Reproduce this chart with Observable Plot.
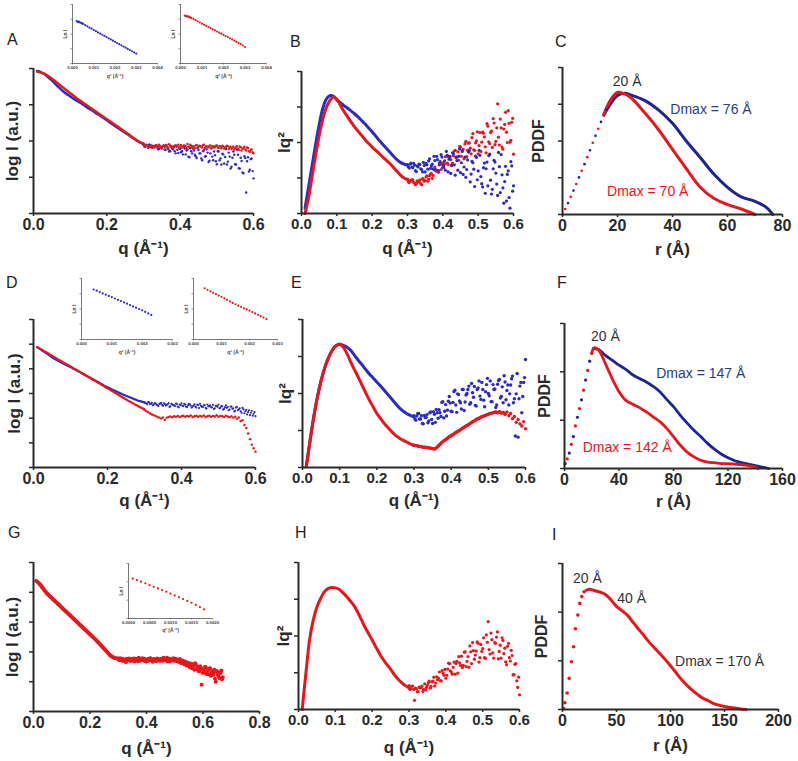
<!DOCTYPE html>
<html><head><meta charset="utf-8">
<script src="https://cdn.jsdelivr.net/npm/d3@7"></script>
<script src="https://cdn.jsdelivr.net/npm/@observablehq/plot@0.6"></script>
<style>
body{margin:0;background:#fff;}
#fig{position:relative;width:798px;height:761px;overflow:hidden;font-family:"Liberation Sans",Arial,sans-serif;background:#fff;}
.pane{position:absolute;}
.lab{position:absolute;font-size:16px;line-height:1;color:#222;}
</style></head><body><div id="fig"></div>
<script>
// ---------- shared q grids ----------
const qS = [0.01,0.02,0.03,0.04,0.05,0.06,0.07,0.08,0.09,0.10,0.11,0.12,0.13,0.14,0.15,0.16,0.17,0.18,0.19,0.20,0.21,0.22,0.23,0.24,0.25,0.26,0.27,0.28,0.29,0.30];
const qN = [.300,.305,.310,.315,.320,.325,.330,.335,.340,.345,.350,.355,.360,.365,.370,.375,.380,.385,.390,.395,.400,.405,.410,.415,.420,.425,.430,.435,.440,.445,.450,.455,.460,.465,.470,.475,.480,.485,.490,.495,.500,.505,.510,.515,.520,.525,.530,.535,.540,.545,.550,.555,.560,.565,.570,.575,.580,.585,.590,.595,.600];
const qN2 = [.3025,.3075,.3125,.3175,.3225,.3275,.3325,.3375,.3425,.3475,.3525,.3575,.3625,.3675,.3725,.3775,.3825,.3875,.3925,.3975,.4025,.4075,.4125,.4175,.4225,.4275,.4325,.4375,.4425,.4475,.4525,.4575,.4625,.4675,.4725,.4775,.4825,.4875,.4925,.4975,.5025,.5075,.5125,.5175,.5225,.5275,.5325,.5375,.5425,.5475,.5525,.5575,.5625,.5675,.5725,.5775,.5825,.5875,.5925,.5975];
const qG = [.300,.305,.310,.315,.320,.325,.330,.335,.340,.345,.350,.355,.360,.365,.370,.375,.380,.385,.390,.395,.400,.405,.410,.415,.420,.425,.430,.435,.440,.445,.450,.455,.460,.465,.470,.475,.480,.485,.490,.495,.500,.505,.510,.515,.520,.525,.530,.535,.540,.545,.550,.555,.560,.565,.570,.575,.580,.585,.590,.595,.600,.605,.610,.615,.620,.625,.630,.635,.640,.645,.650,.655,.660,.665,.670];
const qG2 = [.3025,.3075,.3125,.3175,.3225,.3275,.3325,.3375,.3425,.3475,.3525,.3575,.3625,.3675,.3725,.3775,.3825,.3875,.3925,.3975,.4025,.4075,.4125,.4175,.4225,.4275,.4325,.4375,.4425,.4475,.4525,.4575,.4625,.4675,.4725,.4775,.4825,.4875,.4925,.4975,.5025,.5075,.5125,.5175,.5225,.5275,.5325,.5375,.5425,.5475,.5525,.5575,.5625,.5675,.5725,.5775,.5825,.5875,.5925,.5975,.6025,.6075,.6125,.6175,.6225,.6275,.6325,.6375,.6425,.6475,.6525,.6575,.6625,.6675];

// ---------- Panel A : log I ----------
const aRedS = [3.91,3.89,3.85,3.79,3.72,3.64,3.56,3.48,3.40,3.32,3.24,3.16,3.09,3.02,2.95,2.88,2.81,2.74,2.67,2.60,2.53,2.46,2.39,2.32,2.25,2.18,2.10,2.03,1.97,1.93];
const aBlueS = [3.93,3.90,3.84,3.76,3.67,3.57,3.47,3.38,3.30,3.23,3.16,3.10,3.04,2.97,2.90,2.84,2.77,2.71,2.64,2.57,2.50,2.43,2.36,2.29,2.23,2.16,2.09,2.02,1.96,1.92];
const aRedN = [1.90,1.86,1.88,1.83,1.87,1.85,1.82,1.89,1.84,1.86,1.80,1.88,1.85,1.83,1.91,1.86,1.81,1.87,1.84,1.90,1.85,1.82,1.88,1.86,1.92,1.83,1.87,1.85,1.80,1.89,1.84,1.86,1.82,1.90,1.85,1.83,1.87,1.80,1.86,1.84,1.88,1.81,1.85,1.87,1.79,1.84,1.86,1.82,1.78,1.85,1.80,1.86,1.76,1.83,1.79,1.84,1.74,1.81,1.70,1.77,1.66];
const aRedN2 = [1.84,1.89,1.81,1.86,1.88,1.83,1.87,1.85,1.90,1.82,1.86,1.84,1.89,1.81,1.87,1.85,1.83,1.88,1.86,1.82,1.89,1.84,1.87,1.81,1.85,1.90,1.83,1.86,1.88,1.82,1.87,1.84,1.89,1.81,1.86,1.83,1.88,1.85,1.82,1.87,1.83,1.86,1.80,1.85,1.82,1.87,1.78,1.84,1.81,1.76,1.83,1.79,1.85,1.74,1.80,1.77,1.82,1.72,1.75,1.69];
const aBlueN = [1.90,1.84,1.88,1.90,1.84,1.82,1.85,1.88,1.77,1.86,1.80,1.88,1.76,1.82,1.71,1.84,1.77,1.72,1.87,1.67,1.78,1.72,1.83,1.63,1.77,1.55,1.72,1.79,1.62,1.53,1.75,1.66,1.47,1.76,1.58,1.68,1.46,1.80,1.47,1.61,1.36,1.71,1.52,1.65,1.38,1.78,1.43,1.57,1.29,1.71,1.36,1.76,1.25,1.54,1.13,1.58,0.58,1.55,1.21,1.52,0.97];
const aBlueN2 = [1.86,1.90,1.86,1.90,1.82,1.86,1.87,1.82,1.78,1.83,1.86,1.76,1.89,1.77,1.72,1.81,1.85,1.66,1.76,1.81,1.69,1.63,1.79,1.74,1.57,1.80,1.66,1.74,1.58,1.81,1.66,1.52,1.72,1.57,1.77,1.42,1.66,1.57,1.71,1.44,1.72,1.47,1.35,1.63,1.56,1.35,1.68,1.24,1.54,1.62,1.35,1.62,1.24,1.45,1.11,1.53,1.44,1.16,1.50,1.17];
// insets A (Ln I vs q^2)
const aQ2 = [0.0002,0.00025,0.0003,0.00035,0.0004,0.00045,0.0005,0.0006,0.0007,0.0008,0.0009,0.0010,0.0011,0.0012,0.0013,0.0014,0.0015,0.0016,0.0017,0.0018,0.0019,0.0020,0.0021,0.0022,0.0023,0.0024,0.0025,0.0026,0.0027,0.0028,0.0029,0.0030];
const a1LnI = [2.88,2.80,2.84,2.78,2.76,2.72,2.68,2.60,2.52,2.43,2.36,2.27,2.19,2.11,2.03,1.95,1.87,1.79,1.71,1.63,1.55,1.47,1.39,1.31,1.23,1.15,1.07,0.99,0.91,0.83,0.75,0.67];
const a2LnI = [3.25,3.20,3.22,3.16,3.18,3.12,3.08,3.02,2.94,2.86,2.78,2.70,2.62,2.55,2.47,2.40,2.32,2.25,2.17,2.09,2.02,1.94,1.86,1.79,1.71,1.63,1.55,1.47,1.39,1.31,1.22,1.12];

// ---------- Panel B : Kratky ----------
const bBlueS = [0.15,0.75,1.35,1.95,2.50,2.95,3.22,3.32,3.31,3.20,3.12,3.04,2.97,2.89,2.81,2.72,2.62,2.52,2.41,2.30,2.18,2.06,1.95,1.84,1.73,1.62,1.52,1.44,1.39,1.36];
const bRedS = [0.00,0.45,1.05,1.65,2.20,2.65,2.98,3.18,3.28,3.22,3.05,2.88,2.73,2.58,2.44,2.32,2.20,2.08,1.97,1.87,1.78,1.69,1.59,1.50,1.41,1.30,1.19,1.08,1.00,0.95];
const bRedN = [0.97,0.87,0.91,0.95,0.86,0.84,0.89,0.95,0.81,0.96,0.93,1.06,0.96,1.10,0.99,1.23,1.20,1.19,1.43,1.24,1.43,1.40,1.60,1.38,1.61,1.36,1.63,1.78,1.59,1.50,1.87,1.78,1.54,2.03,1.78,1.99,1.68,2.25,1.78,2.05,1.68,2.28,2.01,2.26,1.88,2.53,2.02,2.28,1.86,2.55,2.03,3.09,1.93,2.41,1.81,2.51,2.29,2.90,2.01,2.57,1.67];
const bRedN2 = [0.89,0.93,0.95,0.87,0.81,0.92,0.90,0.84,0.98,0.91,1.03,0.91,1.06,1.13,1.07,1.31,1.20,1.16,1.39,1.39,1.29,1.60,1.42,1.61,1.52,1.42,1.76,1.57,1.74,1.89,1.61,1.81,1.96,1.60,1.98,1.84,2.14,1.79,1.99,2.30,1.91,1.75,2.29,2.16,1.71,2.46,1.97,2.32,2.67,1.94,2.41,2.15,2.66,1.87,2.38,2.85,2.00,2.54,2.06,2.68];
const bBlueN = [1.38,1.28,1.42,1.29,1.36,1.18,1.31,1.38,1.24,1.44,1.17,1.37,1.48,1.27,1.39,1.61,1.24,1.52,1.37,1.66,1.30,1.48,1.75,1.17,1.60,1.35,1.68,1.08,1.49,1.61,1.15,1.75,1.31,1.02,1.51,1.77,1.11,1.43,0.76,1.58,1.20,1.64,0.84,1.29,0.57,1.45,1.63,0.94,0.68,1.50,1.14,0.51,1.32,1.66,0.72,0.90,0.35,1.20,0.15,1.34,0.78];
const bBlueN2 = [1.31,1.39,1.31,1.41,1.21,1.34,1.39,1.26,1.17,1.35,1.41,1.25,1.54,1.34,1.26,1.49,1.61,1.21,1.46,1.59,1.35,1.22,1.64,1.53,1.13,1.71,1.37,1.59,1.22,1.82,1.43,1.10,1.59,1.24,1.73,0.89,1.47,1.25,1.62,0.95,1.78,1.04,0.75,1.42,1.26,0.78,1.67,0.55,1.26,1.45,0.83,1.72,0.59,1.09,0.29,1.33,1.10,0.45,1.46,0.63];

// ---------- Panel C : PDDF ----------
const cBlueRiseR = [0,2,4,6,8,10,12,14,16];
const cBlueRise = [0,0.31,0.65,1.01,1.37,1.75,2.14,2.52,2.86];
const cRedRiseR = [1,3,5,7,9,11,13,15];
const cRedRise = [0.15,0.48,0.83,1.19,1.56,1.95,2.33,2.70];
const cBlueR = [15,17.5,20,22.5,25,30,35,40,45,50,55,60,65,70,74,76.5];
const cBlue = [2.70,3.02,3.24,3.30,3.25,3.10,2.84,2.48,2.00,1.56,1.10,0.74,0.48,0.36,0.20,0];
const cRedR = [15,17.5,20,22.5,25,30,35,40,45,50,55,60,65,70];
const cRed = [2.72,3.12,3.32,3.28,3.17,2.76,2.30,1.77,1.25,0.75,0.44,0.27,0.15,0];
const cNotes = [{x:23.5,y:3.62,t:"20 Å",c:"#333"},{x:54,y:2.85,t:"Dmax = 76 Å",c:"#2b3b8c"},{x:31,y:0.63,t:"Dmax = 70 Å",c:"#e8161b"}];

// ---------- Panel D : log I ----------
const dBlueS = [4.88,4.78,4.68,4.58,4.47,4.38,4.30,4.22,4.14,4.07,3.99,3.91,3.83,3.75,3.66,3.58,3.50,3.42,3.33,3.25,3.18,3.11,3.04,2.97,2.91,2.85,2.79,2.73,2.68,2.64];
const dRedS = [4.88,4.80,4.71,4.62,4.53,4.44,4.35,4.26,4.18,4.10,4.01,3.92,3.83,3.74,3.66,3.57,3.48,3.39,3.30,3.21,3.12,3.03,2.94,2.85,2.76,2.67,2.59,2.51,2.43,2.36];
const dRedN = [2.33,2.28,2.24,2.19,2.15,2.12,2.09,2.05,2.02,1.99,2.03,1.93,2.02,2.05,2.07,2.04,2.08,2.06,2.09,2.05,2.08,2.10,2.06,2.09,2.07,2.11,2.05,2.08,2.10,2.06,2.09,2.07,2.11,2.05,2.08,2.10,2.06,2.09,2.07,2.12,2.06,2.09,2.08,2.05,2.10,2.07,2.04,2.08,2.02,2.06,1.98,2.03,1.88,1.92,1.72,1.60,1.38,1.15,0.92,0.78,0.64];
const dBlueN = [2.64,2.60,2.66,2.57,2.62,2.55,2.60,2.53,2.58,2.62,2.50,2.57,2.54,2.61,2.48,2.56,2.52,2.59,2.47,2.55,2.60,2.49,2.54,2.45,2.58,2.51,2.47,2.56,2.43,2.53,2.58,2.46,2.52,2.42,2.55,2.49,2.44,2.54,2.40,2.50,2.55,2.42,2.48,2.38,2.52,2.45,2.35,2.47,2.40,2.30,2.46,2.36,2.28,2.42,2.20,2.34,2.25,2.12,2.30,2.18,2.08];
const dBlueN2 = [2.61,2.56,2.63,2.58,2.52,2.60,2.55,2.49,2.59,2.54,2.60,2.51,2.56,2.46,2.58,2.53,2.49,2.57,2.44,2.53,2.50,2.58,2.46,2.52,2.56,2.43,2.51,2.47,2.55,2.41,2.50,2.45,2.53,2.39,2.48,2.52,2.44,2.37,2.50,2.46,2.40,2.49,2.35,2.45,2.42,2.32,2.47,2.38,2.27,2.43,2.33,2.40,2.22,2.36,2.28,2.15,2.32,2.22,2.10,2.25];
const dQ2 = [0.0004,0.0005,0.0006,0.0007,0.0008,0.0009,0.0010,0.0011,0.0012,0.0013,0.0014,0.0015,0.0016,0.0017,0.0018,0.0019,0.0020,0.0021,0.0022,0.0023,0.0024,0.0025,0.0026];
const d1LnI = [3.28,3.20,3.11,3.02,2.94,2.86,2.78,2.69,2.60,2.52,2.43,2.35,2.26,2.17,2.09,2.00,1.91,1.81,1.71,1.61];
const d2LnI = [3.36,3.26,3.16,3.06,2.97,2.88,2.80,2.70,2.60,2.50,2.40,2.31,2.22,2.13,2.05,1.97,1.89,1.80,1.71,1.62,1.53,1.44,1.34];

// ---------- Panel E : Kratky ----------
const eRedS = [0.02,0.70,1.35,1.90,2.35,2.70,2.97,3.17,3.29,3.33,3.25,3.07,2.85,2.64,2.44,2.23,2.02,1.82,1.64,1.46,1.32,1.19,1.08,0.97,0.87,0.80,0.74,0.69,0.64,0.60];
const eBlueS = [0.02,0.70,1.35,1.90,2.35,2.70,2.97,3.17,3.29,3.33,3.30,3.25,3.16,3.03,2.90,2.78,2.65,2.53,2.42,2.31,2.20,2.09,1.97,1.85,1.73,1.62,1.53,1.46,1.41,1.37];
const eRedN = [0.60,0.59,0.58,0.57,0.56,0.55,0.55,0.54,0.53,0.52,0.51,0.50,0.53,0.58,0.63,0.68,0.72,0.75,0.79,0.83,0.86,0.89,0.93,0.96,0.99,1.02,1.06,1.09,1.12,1.15,1.18,1.22,1.25,1.28,1.31,1.33,1.36,1.38,1.40,1.42,1.44,1.46,1.47,1.49,1.50,1.48,1.51,1.47,1.49,1.44,1.50,1.40,1.46,1.32,1.38,1.22,1.30,1.18,1.12,1.24,1.05];
const eBlueN = [1.40,1.28,1.46,1.31,1.40,1.18,1.35,1.43,1.26,1.50,1.19,1.44,1.57,1.33,1.48,1.76,1.34,1.70,1.55,1.92,1.52,1.76,2.09,1.49,1.97,1.75,2.11,1.54,1.96,2.11,1.71,2.27,1.90,1.68,2.11,2.34,1.84,2.11,1.64,2.24,2.00,2.34,1.78,2.11,1.62,2.25,2.38,1.92,1.75,2.31,2.08,1.69,2.23,2.47,1.86,1.99,0.82,2.20,1.48,2.30,2.92];
const eBlueN2 = [1.31,1.39,1.46,1.31,1.19,1.41,1.35,1.21,1.48,1.30,1.51,1.22,1.48,1.56,1.38,1.78,1.52,1.39,1.79,1.74,1.51,2.05,1.69,1.99,1.80,1.58,2.11,1.77,2.00,2.20,1.75,2.02,2.19,1.66,2.15,1.93,2.30,1.82,2.05,2.41,1.94,1.78,2.24,2.12,1.69,2.35,1.88,2.18,2.48,1.83,2.23,1.99,2.40,1.75,0.85,2.54,1.86,2.30,1.92,2.43];

// ---------- Panel F : PDDF ----------
const fBlueRiseR = [0.5,3.5,6.5,9.5,12.5,15.5,18.5];
const fBlueRise = [0.10,0.32,0.66,1.06,1.42,1.83,2.22];
const fRedRiseR = [2,5,8,11,14,17,20];
const fRedRise = [0.20,0.50,0.88,1.24,1.62,2.03,2.38];
const fBlueR = [21,25,30,35,40,45,50,55,60,65,70,75,80,85,90,95,100,105,110,115,120,125,130,135,140,145,150];
const fBlue = [2.48,2.46,2.34,2.24,2.14,2.05,1.94,1.86,1.79,1.70,1.59,1.43,1.28,1.10,0.94,0.79,0.66,0.52,0.40,0.30,0.22,0.16,0.12,0.09,0.06,0.03,0];
const fRedR = [20,22,25,30,35,40,45,50,55,60,65,70,75,80,85,90,95,100,105,110,115,120,125,130,135,140,142];
const fRed = [2.40,2.50,2.45,2.17,1.86,1.59,1.41,1.33,1.26,1.17,1.07,0.97,0.83,0.66,0.48,0.34,0.24,0.17,0.13,0.12,0.10,0.10,0.09,0.08,0.06,0.03,0];
const fNotes = [{x:30,y:2.74,t:"20 Å",c:"#333"},{x:100,y:1.97,t:"Dmax = 147 Å",c:"#2b3b8c"},{x:46,y:0.43,t:"Dmax = 142 Å",c:"#e8161b"}];

// ---------- Panel G : log I ----------
const gS = [4.38,4.30,4.18,4.05,3.94,3.85,3.76,3.67,3.58,3.49,3.40,3.31,3.22,3.13,3.04,2.95,2.86,2.77,2.68,2.59,2.50,2.41,2.31,2.21,2.11,2.00,1.90,1.83,1.79,1.77];
const gN = [1.78,1.72,1.76,1.70,1.74,1.68,1.77,1.72,1.75,1.70,1.74,1.78,1.71,1.75,1.69,1.76,1.73,1.79,1.71,1.74,1.68,1.76,1.72,1.78,1.70,1.75,1.73,1.69,1.77,1.72,1.76,1.70,1.80,1.73,1.75,1.68,1.77,1.72,1.74,1.79,1.70,1.75,1.71,1.66,1.73,1.62,1.70,1.58,1.66,1.55,1.63,1.48,1.60,1.52,1.40,1.56,1.45,1.35,1.52,0.90,1.42,1.30,1.48,1.36,1.25,1.45,1.32,1.22,1.40,1.00,1.35,1.18,1.28,1.38,1.15];
const gN2 = [1.74,1.79,1.71,1.76,1.72,1.66,1.74,1.78,1.70,1.76,1.72,1.68,1.77,1.73,1.80,1.70,1.75,1.72,1.77,1.69,1.74,1.71,1.79,1.73,1.67,1.76,1.71,1.78,1.74,1.70,1.73,1.77,1.71,1.76,1.80,1.72,1.68,1.75,1.71,1.73,1.77,1.69,1.72,1.76,1.64,1.70,1.60,1.67,1.54,1.62,1.50,1.58,1.45,1.55,1.62,1.42,1.50,1.38,1.46,1.30,1.40,1.50,1.26,1.38,1.44,1.20,1.36,1.28,1.10,1.34,1.24,1.12,1.30,1.08];
const gQ2 = [0.0001,0.0002,0.0003,0.0004,0.0005,0.0006,0.0007,0.0008,0.0009,0.0010,0.0011,0.0012,0.0013,0.0014,0.0015,0.0016,0.0017,0.0018];
const gLnI = [2.18,2.10,2.01,1.92,1.82,1.73,1.64,1.55,1.46,1.36,1.26,1.16,1.06,0.96,0.86,0.74,0.62,0.50];

// ---------- Panel H : Kratky ----------
const hS = [0.00,0.98,1.89,2.43,2.79,3.02,3.20,3.29,3.32,3.31,3.27,3.18,3.08,2.96,2.84,2.66,2.46,2.25,2.07,1.89,1.70,1.52,1.36,1.22,1.10,0.95,0.83,0.73,0.65,0.59];
const hN = [0.65,0.56,0.64,0.25,0.56,0.49,0.59,0.64,0.55,0.53,0.66,0.77,0.63,0.77,0.64,0.89,0.85,0.78,1.06,0.93,0.85,1.10,1.25,1.02,1.15,0.96,1.31,1.44,1.20,1.14,1.56,1.17,1.44,1.73,1.25,1.60,1.48,1.84,1.29,1.77,1.66,1.41,2.03,2.39,1.51,1.90,1.40,1.80,2.11,1.58,1.40,1.88,1.67,1.22,1.80,1.32,1.47,0.95,1.25,0.60,0.40];
const hN2 = [0.55,0.63,0.55,0.58,0.48,0.61,0.59,0.49,0.70,0.60,0.73,0.58,0.75,0.88,0.72,0.81,1.02,0.78,0.99,1.09,0.93,1.26,1.05,0.96,1.29,1.25,0.99,1.27,1.45,1.20,1.57,1.31,1.15,1.57,1.82,1.37,1.59,1.80,1.41,1.58,1.95,1.39,1.83,1.63,2.08,1.54,1.82,1.97,1.38,1.75,1.95,1.52,1.30,1.72,1.41,1.61,0.94,1.23,0.78,0.88];

// ---------- Panel I : PDDF ----------
const iRiseR = [1,2.2,4.3,6.2,8.3,10.2,12,14.2,16,17.8,20];
const iRise = [0.02,0.14,0.34,0.64,0.98,1.29,1.66,1.94,2.18,2.32,2.42];
const iR = [22,25,30,35,40,45,50,55,60,65,70,75,80,85,90,95,100,105,110,115,120,125,130,135,140,145,150,155,160,165,170];
const iP = [2.45,2.47,2.44,2.41,2.36,2.25,2.12,2.03,1.94,1.80,1.66,1.53,1.39,1.27,1.15,1.03,0.90,0.76,0.62,0.50,0.40,0.31,0.23,0.18,0.12,0.09,0.06,0.04,0.03,0.01,0];
const iNotes = [{x:23,y:2.69,t:"20 Å",c:"#333"},{x:64,y:2.29,t:"40 Å",c:"#333"},{x:145.5,y:0.98,t:"Dmax = 170 Å",c:"#333"}];

// ---------- tick values ----------
const xtQ6 = [0,0.2,0.4,0.6], xtQ8 = [0,0.2,0.4,0.6,0.8], xtK = [0,0.1,0.2,0.3,0.4,0.5,0.6];
const xtC = [0,20,40,60,80], xtF = [0,40,80,120,160], xtI = [0,50,100,150,200];
const yt3 = [0,1,2,3], yt4 = [0,1,2,3,4], yt5 = [0,1,2,3,4,5], yt6 = [0,1,2,3,4,5,6];
const xtIn4 = [0,0.001,0.002,0.003,0.004], xtIn3 = [0,0.001,0.002,0.003], xtInG = [0,0.0005,0.001,0.0015,0.002];

// ---------- rendering ----------
const RED = "#e8161b", BLUE = "#2a2ac4", NAVY = "#1d2493", AX = "#2a2a2a";
const FONT = "Liberation Sans, Arial, sans-serif";
const fig = document.getElementById("fig");
const pts = (xs, ys) => ys.map((y, i) => ({x: xs[i], y}));
function place(node, left, top) {
  const d = document.createElement("div");
  d.className = "pane"; d.style.left = left + "px"; d.style.top = top + "px";
  d.appendChild(node); fig.appendChild(d);
}
function letter(t, left, top) {
  const d = document.createElement("div");
  d.className = "lab"; d.textContent = t; d.style.left = left + "px"; d.style.top = top + "px";
  fig.appendChild(d);
}
function panel(o) {
  const yMax = o.yTicks[o.yTicks.length - 1];
  const p = Plot.plot({
    width: o.width, height: o.height,
    marginLeft: o.m[0], marginRight: o.m[1], marginTop: o.m[2], marginBottom: o.m[3],
    x: {domain: o.xDomain}, y: {domain: [0, yMax]},
    color: {type: "identity"},
    style: {background: "transparent", overflow: "visible", fontFamily: FONT, color: AX},
    marks: [
      ...o.marks,
      Plot.ruleX([o.xDomain[0]], {y1: 0, y2: yMax, stroke: AX, strokeWidth: 2}),
      Plot.ruleY([0], {x1: o.xDomain[0], x2: o.xDomain[1], stroke: AX, strokeWidth: 2}),
      Plot.axisX({ticks: o.xTicks, tickFormat: o.xFmt, tickSize: 3, tickPadding: 2, fontSize: o.tickFont, fontWeight: "bold", strokeWidth: 1.5, label: null}),
      Plot.axisX({ticks: [], label: o.xLabel, labelAnchor: "center", labelArrow: "none", labelOffset: o.xOff, fontSize: 17, fontWeight: "bold"}),
      Plot.axisY({ticks: o.yTicks, tickFormat: () => "", tickSize: 4, strokeWidth: 1.5, label: null}),
      Plot.axisY({ticks: [], label: o.yLabel, labelAnchor: "center", labelArrow: "none", labelOffset: o.yOff, fontSize: o.yFont || 17, fontWeight: "bold"})
    ]
  });
  place(p, o.left, o.top);
}
function inset(o) {
  const yMax = o.yTicks[o.yTicks.length - 1];
  const p = Plot.plot({
    width: o.width, height: o.height,
    marginLeft: o.m[0], marginRight: o.m[1], marginTop: o.m[2], marginBottom: o.m[3],
    x: {domain: o.xDomain}, y: {domain: [0, yMax]},
    style: {background: "transparent", overflow: "visible", fontFamily: FONT, color: "#444"},
    marks: [
      Plot.dot(o.data, {x: "x", y: "y", r: 1.1, fill: o.color, stroke: "none"}),
      Plot.ruleX([0], {y1: 0, y2: yMax, stroke: "#555", strokeWidth: 0.8}),
      Plot.ruleY([0], {x1: o.xDomain[0], x2: o.xDomain[1], stroke: "#555", strokeWidth: 0.8}),
      Plot.axisX({ticks: o.xTicks, tickFormat: o.xFmt, tickSize: 1.5, tickPadding: 1, fontSize: 4.3, fontWeight: "bold", strokeWidth: 0.6, label: null}),
      Plot.axisX({ticks: [], label: "q² (Å⁻²)", labelAnchor: "center", labelArrow: "none", labelOffset: o.xOff, fontSize: 5, fontWeight: "bold"}),
      Plot.axisY({ticks: o.yTicks, tickFormat: () => "", tickSize: 1.5, strokeWidth: 0.6, label: null}),
      Plot.axisY({ticks: [], label: "Ln I", labelAnchor: "center", labelArrow: "none", labelOffset: 9, fontSize: 5, fontWeight: "bold"})
    ]
  });
  place(p, o.left, o.top);
}
const f1 = d3.format(".1f"), fInt = d => String(d);

// Panel A
panel({left: 0, top: 40, width: 268, height: 215, m: [33, 15, 28, 42], xDomain: [0, 0.6], xTicks: xtQ6, xFmt: f1, tickFont: 16,
  yTicks: yt4, xLabel: "q (Å⁻¹)", xOff: 40, yLabel: "log I (a.u.)", yOff: 28,
  marks: [
    Plot.dot(pts(qN, aBlueN), {x: "x", y: "y", r: 1.2, fill: BLUE}),
    Plot.dot(pts(qN2, aBlueN2), {x: "x", y: "y", r: 1.2, fill: BLUE}),
    Plot.dot(pts(qN, aRedN), {x: "x", y: "y", r: 1.2, fill: RED}),
    Plot.dot(pts(qN2, aRedN2), {x: "x", y: "y", r: 1.2, fill: RED}),
    Plot.line(pts(qS, aBlueS), {x: "x", y: "y", stroke: BLUE, strokeWidth: 2.5, curve: "catmull-rom"}),
    Plot.line(pts(qS, aRedS), {x: "x", y: "y", stroke: RED, strokeWidth: 2.5, curve: "catmull-rom"})
  ]});
inset({left: 55, top: 0, width: 112, height: 82, m: [17, 10, 4, 19], xDomain: [0, 0.004], xTicks: xtIn4, xFmt: d3.format(".3f"), yTicks: yt4, xOff: 14, data: pts(aQ2, a1LnI), color: BLUE});
inset({left: 163, top: 0, width: 112, height: 82, m: [17, 9, 4, 19], xDomain: [0, 0.004], xTicks: xtIn4, xFmt: d3.format(".3f"), yTicks: yt4, xOff: 14, data: pts(aQ2, a2LnI), color: RED});

// Panel B
panel({left: 270, top: 40, width: 260, height: 215, m: [31, 17, 31, 42], xDomain: [0, 0.6], xTicks: xtK, xFmt: f1, tickFont: 15,
  yTicks: yt4, xLabel: "q (Å⁻¹)", xOff: 40, yLabel: "Iq²", yOff: 24,
  marks: [
    Plot.dot(pts(qN, bRedN), {x: "x", y: "y", r: 1.6, fill: RED}),
    Plot.dot(pts(qN2, bRedN2), {x: "x", y: "y", r: 1.6, fill: RED}),
    Plot.dot(pts(qN, bBlueN), {x: "x", y: "y", r: 1.6, fill: BLUE}),
    Plot.dot(pts(qN2, bBlueN2), {x: "x", y: "y", r: 1.6, fill: BLUE}),
    Plot.line(pts(qS, bBlueS), {x: "x", y: "y", stroke: BLUE, strokeWidth: 3, curve: "catmull-rom"}),
    Plot.line(pts(qS, bRedS), {x: "x", y: "y", stroke: RED, strokeWidth: 3, curve: "catmull-rom"})
  ]});

// Panel C
panel({left: 530, top: 40, width: 268, height: 215, m: [32, 16, 27, 41], xDomain: [0, 80], xTicks: xtC, xFmt: fInt, tickFont: 16,
  yTicks: yt4, xLabel: "r (Å)", xOff: 40, yLabel: "PDDF", yOff: 30, yFont: 16,
  marks: [
    Plot.line(pts(cBlueR, cBlue), {x: "x", y: "y", stroke: NAVY, strokeWidth: 3, curve: "catmull-rom"}),
    Plot.line(pts(cRedR, cRed), {x: "x", y: "y", stroke: RED, strokeWidth: 3, curve: "catmull-rom"}),
    Plot.dot(pts(cBlueRiseR, cBlueRise), {x: "x", y: "y", r: 1.3, fill: NAVY}),
    Plot.dot(pts(cRedRiseR, cRedRise), {x: "x", y: "y", r: 1.3, fill: RED}),
    Plot.text(cNotes, {x: "x", y: "y", text: "t", fill: "c", fontSize: 14, fontWeight: "normal"})
  ]});

// Panel D
panel({left: 0, top: 290, width: 268, height: 215, m: [33, 13, 29, 38], xDomain: [0, 0.6], xTicks: xtQ6, xFmt: f1, tickFont: 16,
  yTicks: yt6, xLabel: "q (Å⁻¹)", xOff: 38, yLabel: "log I (a.u.)", yOff: 26,
  marks: [
    Plot.dot(pts(qN, dBlueN), {x: "x", y: "y", r: 1.1, fill: BLUE}),
    Plot.dot(pts(qN2, dBlueN2), {x: "x", y: "y", r: 1.1, fill: BLUE}),
    Plot.dot(pts(qN, dRedN), {x: "x", y: "y", r: 1.2, fill: RED}),
    Plot.line(pts(qS, dBlueS), {x: "x", y: "y", stroke: BLUE, strokeWidth: 2.2, curve: "catmull-rom"}),
    Plot.line(pts(qS, dRedS), {x: "x", y: "y", stroke: RED, strokeWidth: 2.2, curve: "catmull-rom"})
  ]});
inset({left: 64, top: 272, width: 112, height: 85, m: [17, 4, 6, 18], xDomain: [0, 0.003], xTicks: xtIn3, xFmt: d3.format(".3f"), yTicks: yt4, xOff: 14, data: pts(dQ2, d1LnI), color: BLUE});
inset({left: 176, top: 272, width: 112, height: 85, m: [17, 11, 6, 18], xDomain: [0, 0.003], xTicks: xtIn3, xFmt: d3.format(".3f"), yTicks: yt4, xOff: 14, data: pts(dQ2, d2LnI), color: RED});

// Panel E
panel({left: 270, top: 290, width: 262, height: 215, m: [32, 7, 29, 38], xDomain: [0, 0.6], xTicks: xtK, xFmt: f1, tickFont: 15,
  yTicks: yt4, xLabel: "q (Å⁻¹)", xOff: 38, yLabel: "Iq²", yOff: 24,
  marks: [
    Plot.dot(pts(qN, eBlueN), {x: "x", y: "y", r: 1.7, fill: BLUE}),
    Plot.dot(pts(qN2, eBlueN2), {x: "x", y: "y", r: 1.7, fill: BLUE}),
    Plot.line(pts(qS, eBlueS), {x: "x", y: "y", stroke: BLUE, strokeWidth: 3, curve: "catmull-rom"}),
    Plot.line(pts(qS, eRedS), {x: "x", y: "y", stroke: RED, strokeWidth: 3, curve: "catmull-rom"}),
    Plot.line(pts(qN, eRedN).filter(d => d.x <= 0.545), {x: "x", y: "y", stroke: RED, strokeWidth: 3, curve: "catmull-rom"}),
    Plot.dot(pts(qN, eRedN), {x: "x", y: "y", r: 1.7, fill: RED})
  ]});

// Panel F
panel({left: 530, top: 290, width: 268, height: 215, m: [34, 16, 33, 37], xDomain: [0, 160], xTicks: xtF, xFmt: fInt, tickFont: 16,
  yTicks: yt3, xLabel: "r (Å)", xOff: 38, yLabel: "PDDF", yOff: 26, yFont: 16,
  marks: [
    Plot.line(pts(fBlueR, fBlue), {x: "x", y: "y", stroke: NAVY, strokeWidth: 2.8, curve: "catmull-rom"}),
    Plot.line(pts(fRedR, fRed), {x: "x", y: "y", stroke: RED, strokeWidth: 2.8, curve: "catmull-rom"}),
    Plot.dot(pts(fBlueRiseR, fBlueRise), {x: "x", y: "y", r: 1.6, fill: NAVY}),
    Plot.dot(pts(fRedRiseR, fRedRise), {x: "x", y: "y", r: 1.6, fill: RED}),
    Plot.text(fNotes, {x: "x", y: "y", text: "t", fill: "c", fontSize: 14, fontWeight: "normal"})
  ]});

// Panel G
panel({left: 0, top: 530, width: 270, height: 231, m: [33, 11, 32, 50], xDomain: [0, 0.8], xTicks: xtQ8, xFmt: f1, tickFont: 16,
  yTicks: yt5, xLabel: "q (Å⁻¹)", xOff: 42, yLabel: "log I (a.u.)", yOff: 28,
  marks: [
    Plot.line(pts(qS, gS), {x: "x", y: "y", stroke: RED, strokeWidth: 4, curve: "catmull-rom"}),
    Plot.dot(pts(qG, gN), {x: "x", y: "y", r: 2, fill: RED}),
    Plot.dot(pts(qG2, gN2), {x: "x", y: "y", r: 2, fill: RED})
  ]});
inset({left: 111, top: 557, width: 112, height: 80, m: [17, 11, 6, 19], xDomain: [0, 0.002], xTicks: xtInG, xFmt: d3.format(".4f"), yTicks: yt3, xOff: 13, data: pts(gQ2, gLnI), color: RED});

// Panel H
panel({left: 270, top: 530, width: 260, height: 231, m: [28, 11, 32, 52], xDomain: [0, 0.6], xTicks: xtK, xFmt: f1, tickFont: 15,
  yTicks: yt4, xLabel: "q (Å⁻¹)", xOff: 43, yLabel: "Iq²", yOff: 22,
  marks: [
    Plot.line(pts(qS, hS), {x: "x", y: "y", stroke: RED, strokeWidth: 3, curve: "catmull-rom"}),
    Plot.dot(pts(qN, hN), {x: "x", y: "y", r: 1.6, fill: RED}),
    Plot.dot(pts(qN2, hN2), {x: "x", y: "y", r: 1.6, fill: RED})
  ]});

// Panel I
panel({left: 530, top: 530, width: 268, height: 231, m: [32, 20, 33, 52], xDomain: [0, 200], xTicks: xtI, xFmt: fInt, tickFont: 16,
  yTicks: yt3, xLabel: "r (Å)", xOff: 41, yLabel: "PDDF", yOff: 27, yFont: 16,
  marks: [
    Plot.line(pts(iR, iP), {x: "x", y: "y", stroke: RED, strokeWidth: 3, curve: "catmull-rom"}),
    Plot.dot(pts(iRiseR, iRise), {x: "x", y: "y", r: 1.8, fill: RED}),
    Plot.text(iNotes, {x: "x", y: "y", text: "t", fill: "c", fontSize: 14, fontWeight: "normal"})
  ]});

// panel letters
letter("A", 7, 32); letter("B", 290, 34); letter("C", 555, 34);
letter("D", 6, 275); letter("E", 291, 275); letter("F", 557, 275);
letter("G", 8, 525); letter("H", 295, 525); letter("I", 552, 527);
</script></body></html>
